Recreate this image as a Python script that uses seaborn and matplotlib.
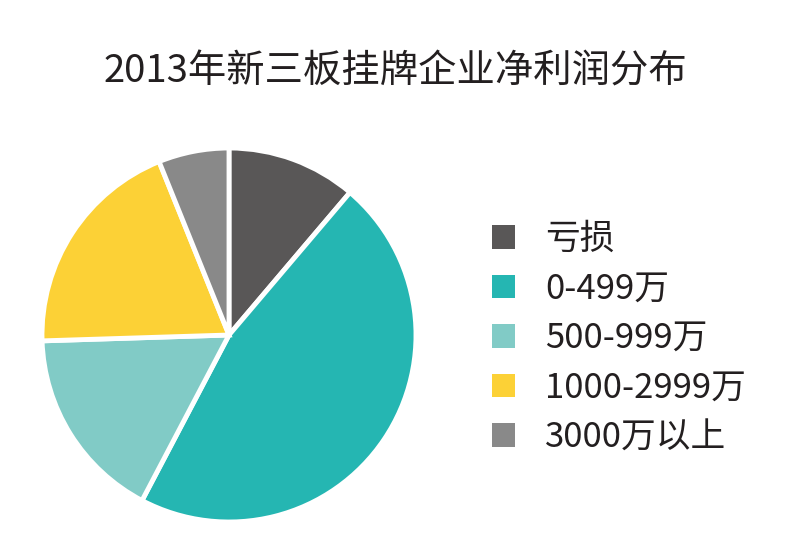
import matplotlib
matplotlib.use("Agg")
import matplotlib.pyplot as plt
from matplotlib.patches import Patch
import seaborn as sns

# data
labels = ["亏损", "0-499万", "500-999万", "1000-2999万", "3000万以上"]
shares = [11.2, 46.5, 16.8, 19.4, 6.1]
colors = ["#595757", "#25b6b2", "#81cbc6", "#fcd136", "#898989"]
title = "2013年新三板挂牌企业净利润分布"

sns.set_theme(style="white")
plt.rcParams["font.family"] = ["Noto Sans CJK SC", "DejaVu Sans"]

W, H = 800, 544
fig = plt.figure(figsize=(W / 100, H / 100), dpi=100)

# pie axes, placed in pixel terms
cx, cy, r = 229, 335, 187
ax = fig.add_axes([(cx - r) / W, (H - cy - r) / H, 2 * r / W, 2 * r / H])
ax.pie(shares, colors=colors, startangle=90, counterclock=False,
       radius=1.0,
       wedgeprops=dict(edgecolor="white", linewidth=3.5))
ax.set_xlim(-1, 1)
ax.set_ylim(-1, 1)
ax.set_aspect("equal")
ax.axis("off")

fig.text(395 / W, 1 - 72 / H, title, ha="center", va="center",
         fontsize=27.6, color="#231f20")

handles = [Patch(facecolor=c, edgecolor="none") for c in colors]
leg = fig.legend(handles, labels, loc="upper left",
                 bbox_to_anchor=(492 / W, 1 - 222 / H),
                 frameon=False, fontsize=25,
                 handlelength=0.67, handleheight=0.67,
                 handletextpad=0.85, labelspacing=0.42,
                 borderaxespad=0, borderpad=0)
for t in leg.get_texts():
    t.set_color("#231f20")

fig.savefig("out.png", dpi=100, facecolor="white")
